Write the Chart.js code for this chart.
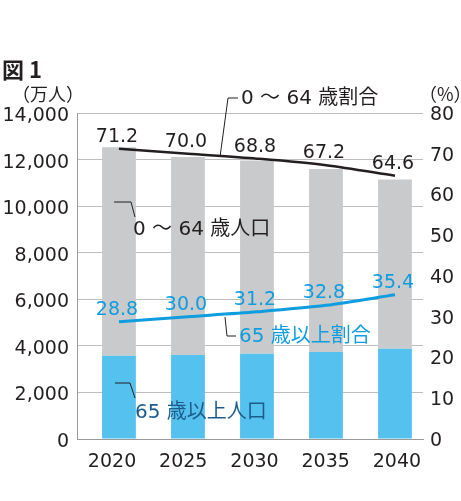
<!DOCTYPE html>
<html>
<head>
<meta charset="utf-8">
<script src="https://cdn.jsdelivr.net/npm/chart.js@4"></script>
<style>
  html, body { margin: 0; padding: 0; background: #fff; }
  #wrap { width: 461px; height: 501px; position: relative; }
</style>
</head>
<body>
<div id="wrap"><canvas id="pop-chart"></canvas></div>
<script>
const years = [2020, 2025, 2030, 2035, 2040];
const pop65 = [3570, 3610, 3660, 3740, 3880];
const pop0to64 = [8960, 8500, 8300, 7860, 7260];
const ratio0to64 = [71.2, 70.0, 68.8, 67.2, 64.6];
const ratio65 = [28.8, 30.0, 31.2, 32.8, 35.4];
const leftTicks = [0, 2000, 4000, 6000, 8000, 10000, 12000, 14000];
const rightTicks = [0, 10, 20, 30, 40, 50, 60, 70, 80];

const FONT = '"DejaVu Sans", "Noto Sans CJK JP", sans-serif';
const CJK = '"Noto Sans CJK JP", sans-serif';
const INK = '#231f20';
const BLUE_LINE = '#0f9de0';
const NAVY = '#1b5c8c';

const xy = vals => vals.map((v, i) => ({ x: years[i], y: v }));

// value labels above the two ratio lines + text notes with leader lines
const notesPlugin = {
    id: 'notes',
    afterDatasetsDraw(chart) {
        const ctx = chart.ctx;
        ctx.save();
        ctx.textAlign = 'center';
        ctx.textBaseline = 'middle';
        ctx.font = '19px ' + FONT;
        [[2, INK, 12], [3, BLUE_LINE, 12]].forEach(([idx, color, off]) => {
            const meta = chart.getDatasetMeta(idx);
            const vals = chart.data.datasets[idx].data;
            ctx.fillStyle = color;
            meta.data.forEach((pt, i) => {
                ctx.fillText(vals[i].y.toFixed(1), pt.x - 2, pt.y - off);
            });
        });

        function leader(pts, color) {
            ctx.strokeStyle = color;
            ctx.lineWidth = 1;
            ctx.beginPath();
            ctx.moveTo(pts[0][0], pts[0][1]);
            for (let i = 1; i < pts.length; i++) ctx.lineTo(pts[i][0], pts[i][1]);
            ctx.stroke();
        }
        function note(text, x, y, color) {
            ctx.textAlign = 'left';
            ctx.fillStyle = color;
            ctx.fillText(text, x, y);
        }
        ctx.font = '20px ' + FONT;
        leader([[220, 157], [228, 98], [238, 98]], INK);
        note('0 ～ 64 歳割合', 241, 99, INK);
        leader([[114, 202], [131, 202], [135, 217]], INK);
        note('0 ～ 64 歳人口', 133, 230, INK);
        leader([[225, 317], [227, 336], [236, 336]], INK);
        note('65 歳以上割合', 239, 337, BLUE_LINE);
        leader([[115, 383], [130, 383], [135, 398]], INK);
        note('65 歳以上人口', 135, 413, NAVY);

        // title and units
        ctx.fillStyle = INK;
        ctx.font = 'bold 22px ' + CJK;
        ctx.fillText('図 1', 2, 70);
        ctx.font = '18px ' + CJK;
        ctx.fillText('（万人）', 12, 94);
        ctx.fillText('（%）', 419, 94);
        ctx.restore();
    }
};

const ctx = document.getElementById('pop-chart').getContext('2d');
const popChart = new Chart(ctx, {
    type: 'bar',
    data: {
        datasets: [
            {
                label: '65 歳以上人口',
                data: xy(pop65),
                backgroundColor: '#55c1ef',
                yAxisID: 'y',
                stack: 'pop',
                order: 2
            },
            {
                label: '0 ～ 64 歳人口',
                data: xy(pop0to64),
                backgroundColor: '#c9cacb',
                yAxisID: 'y',
                stack: 'pop',
                order: 2
            },
            {
                type: 'line',
                label: '0 ～ 64 歳割合',
                data: xy(ratio0to64),
                borderColor: INK,
                borderWidth: 2.5,
                pointRadius: 0,
                tension: 0.3,
                yAxisID: 'y2',
                order: 1
            },
            {
                type: 'line',
                label: '65 歳以上割合',
                data: xy(ratio65),
                borderColor: BLUE_LINE,
                borderWidth: 3,
                pointRadius: 0,
                tension: 0.3,
                yAxisID: 'y2',
                order: 1
            }
        ]
    },
    options: {
        responsive: true,
        maintainAspectRatio: false,
        animation: false,
        layout: { padding: { top: 113, left: 0, right: 0, bottom: 0 } },
        datasets: {
            bar: { categoryPercentage: 1, barPercentage: 0.49 }
        },
        plugins: {
            legend: { display: false },
            tooltip: { enabled: false }
        },
        scales: {
            x: {
                type: 'linear',
                stacked: true,
                offset: false,
                min: 2016.96,
                max: 2042.03,
                afterBuildTicks(scale) { scale.ticks = years.map(v => ({ value: v })); },
                grid: { display: false, drawTicks: false },
                border: { color: '#9a9a9a', width: 1 },
                ticks: { display: false },
                afterFit(scale) { scale.height = 0; }
            },
            // year labels sit on a slightly wider pitch than the bars
            xYears: {
                type: 'linear',
                position: 'bottom',
                offset: false,
                min: 2017.54,
                max: 2041.83,
                afterBuildTicks(scale) { scale.ticks = years.map(v => ({ value: v })); },
                grid: { display: false, drawTicks: false },
                border: { display: false },
                ticks: {
                    color: INK,
                    font: { family: FONT, size: 19 },
                    padding: 12,
                    callback: v => String(v)
                },
                afterFit(scale) { scale.height = 62; }
            },
            y: {
                stacked: true,
                position: 'left',
                min: 0,
                max: 14000,
                afterBuildTicks(scale) { scale.ticks = leftTicks.map(v => ({ value: v })); },
                grid: { color: '#bdbdbd', lineWidth: 1, drawTicks: false },
                border: { color: '#9a9a9a', width: 1 },
                ticks: {
                    color: INK,
                    font: { family: FONT, size: 19 },
                    padding: 8,
                    labelOffset: 3,
                    callback: v => v.toLocaleString('en-US')
                },
                afterFit(scale) { scale.width = 77; }
            },
            y2: {
                position: 'right',
                min: 0,
                max: 80,
                afterBuildTicks(scale) { scale.ticks = rightTicks.map(v => ({ value: v })); },
                grid: { display: false, drawTicks: false },
                border: { display: false },
                ticks: { color: INK, font: { family: FONT, size: 19 }, padding: 7, labelOffset: 2 },
                afterFit(scale) { scale.width = 38; }
            }
        }
    },
    plugins: [notesPlugin]
});
</script>
</body>
</html>
